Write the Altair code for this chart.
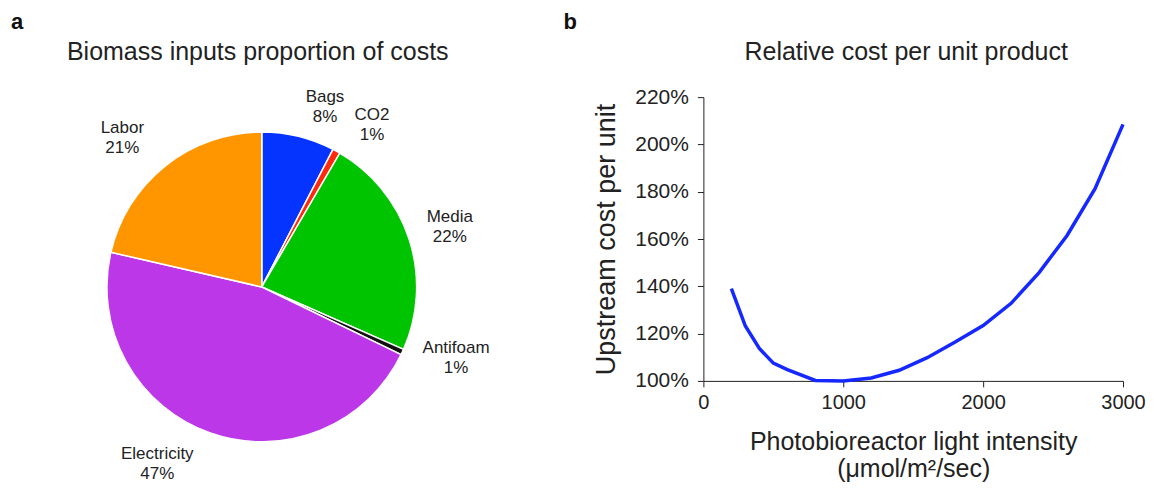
import altair as alt
import pandas as pd

# ---------------- data ----------------
categories = ["Bags", "CO2", "Media", "Antifoam", "Electricity", "Labor"]
shares = [7.6, 0.8, 23.2, 0.6, 46.4, 21.4]
share_labels = ["8%", "1%", "22%", "1%", "47%", "21%"]
slice_colors = ["#0533ff", "#ff2a0d", "#00c400", "#111111", "#bb37e8", "#ff9600"]

light = [200, 300, 400, 500, 600, 800, 1000, 1200, 1400, 1600, 1800,
         2000, 2200, 2400, 2600, 2800, 3000]
rel_cost = [1.39, 1.232, 1.137, 1.075, 1.048, 1.002, 1.000, 1.012, 1.045,
            1.098, 1.164, 1.234, 1.328, 1.458, 1.615, 1.813, 2.085]

FONT = "Liberation Sans"
TOTAL = sum(shares)

pie_df = pd.DataFrame({
    "idx": list(range(len(categories))),
    "category": categories,
    "value": shares,
    "label": [f"{c}\n{p}" for c, p in zip(categories, share_labels)],
})
line_df = pd.DataFrame({"light": light, "cost": rel_cost})

# label nudges (placement style, in px) relative to mid-angle at radius 200
label_nudge = {
    "Bags": (16, 4),
    "CO2": (14, 3),
    "Media": (-2, -8),
    "Antifoam": (13, -23),
    "Electricity": (-38, -21),
    "Labor": (-15, -3),
}

PIE_W, PIE_H = 508, 380
theta_scale = alt.Scale(domain=[0, TOTAL])

base = alt.Chart(pie_df)
arcs = base.mark_arc(radius=155, stroke="white", strokeWidth=1.5).encode(
    theta=alt.Theta("value:Q", stack=True, scale=theta_scale),
    order=alt.Order("idx:Q", sort="ascending"),
    color=alt.Color("category:N", scale=alt.Scale(domain=categories, range=slice_colors), legend=None),
)

label_layers = []
for cat in categories:
    dx, dy = label_nudge[cat]
    lay = base.transform_window(
        cum="sum(value)", sort=[alt.SortField("idx", order="ascending")]
    ).transform_calculate(
        mid="datum.cum - datum.value / 2"
    ).transform_filter(
        alt.datum.category == cat
    ).mark_text(
        radius=200, dx=dx, dy=dy, font=FONT, fontSize=17, lineBreak="\n",
        lineHeight=20, color="#222222", align="center", baseline="middle"
    ).encode(
        theta=alt.Theta("mid:Q", stack=False, scale=theta_scale),
        text="label:N",
    )
    label_layers.append(lay)

pie_title = alt.Chart(pd.DataFrame({"t": ["Biomass inputs proportion of costs"]})).mark_text(
    font=FONT, fontSize=25, color="#222222", align="center", baseline="middle"
).encode(x=alt.value(250), y=alt.value(-45), text="t:N")

letter_a = alt.Chart(pd.DataFrame({"t": ["a"]})).mark_text(
    font=FONT, fontSize=22, fontWeight="bold", color="#111111", align="left", baseline="alphabetic"
).encode(x=alt.value(3), y=alt.value(-68), text="t:N")

pie_panel = alt.layer(arcs, *label_layers, pie_title, letter_a).properties(
    width=PIE_W, height=PIE_H
)

# ---------------- line panel ----------------
line = alt.Chart(line_df).mark_line(color="#1428ff", strokeWidth=3.5).encode(
    x=alt.X(
        "light:Q",
        scale=alt.Scale(domain=[0, 3000], nice=False),
        axis=alt.Axis(
            values=[0, 1000, 2000, 3000], format="d", grid=False, domainColor="#222222",
            tickColor="#222222", tickSize=6, labelFont=FONT, labelFontSize=20,
            labelColor="#222222", labelPadding=6, title=["Photobioreactor light intensity", "(μmol/m²/sec)"],
            titleFont=FONT, titleFontSize=25, titleFontWeight="normal", titleColor="#222222",
            titlePadding=17, titleLineHeight=27, labelFlush=False,
        ),
    ),
    y=alt.Y(
        "cost:Q",
        scale=alt.Scale(domain=[1.0, 2.2], nice=False, zero=False),
        axis=alt.Axis(
            values=[1.0, 1.2, 1.4, 1.6, 1.8, 2.0, 2.2], format=".0%", grid=False,
            domainColor="#222222", tickColor="#222222", tickSize=6, labelFont=FONT,
            labelFontSize=21, labelColor="#222222", labelPadding=9,
            title="Upstream cost per unit", titleFont=FONT, titleFontSize=27,
            titleFontWeight="normal", titleColor="#222222", titlePadding=14, labelFlush=False,
        ),
    ),
)

line_title = alt.Chart(pd.DataFrame({"t": ["Relative cost per unit product"]})).mark_text(
    font=FONT, fontSize=25, color="#222222", align="center", baseline="middle"
).encode(x=alt.value(203), y=alt.value(-45), text="t:N")

letter_b = alt.Chart(pd.DataFrame({"t": ["b"]})).mark_text(
    font=FONT, fontSize=22, fontWeight="bold", color="#111111", align="left", baseline="alphabetic"
).encode(x=alt.value(-140), y=alt.value(-68), text="t:N")

line_panel = alt.layer(line, line_title, letter_b).properties(width=420, height=284)

chart = alt.hconcat(pie_panel, line_panel, spacing=48).properties(
    padding={"left": 0, "top": 3, "right": 0, "bottom": 0},
    background="white",
).configure_view(strokeWidth=0, stroke="transparent")

chart.save("out.html", embed_options={"renderer": "svg", "actions": False})
